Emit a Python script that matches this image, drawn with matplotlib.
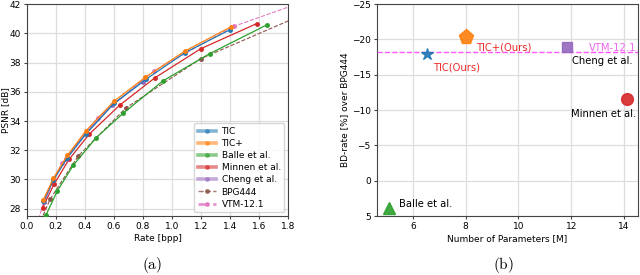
import matplotlib
matplotlib.use("Agg")
import matplotlib.pyplot as plt
from matplotlib.lines import Line2D

# ---- Data: rate-distortion (a) ----
tic_rate = [0.113, 0.182, 0.28, 0.406, 0.60, 0.82, 1.09, 1.40]
tic_psnr = [28.50, 29.95, 31.50, 33.10, 35.20, 36.85, 38.68, 40.25]
ticp_rate = [0.113, 0.182, 0.28, 0.406, 0.60, 0.817, 1.09, 1.404]
ticp_psnr = [28.59, 30.07, 31.66, 33.32, 35.35, 37.00, 38.79, 40.43]
balle_rate = [0.131, 0.209, 0.32, 0.479, 0.666, 0.937, 1.26, 1.656]
balle_psnr = [27.55, 29.20, 30.98, 32.87, 34.55, 36.74, 38.61, 40.59]
minnen_rate = [0.109, 0.188, 0.29, 0.43, 0.639, 0.884, 1.199, 1.583]
minnen_psnr = [28.08, 29.69, 31.37, 33.10, 35.08, 36.97, 38.95, 40.66]
cheng_rate = [0.12, 0.18, 0.27, 0.41, 0.59, 0.80]
cheng_psnr = [28.45, 29.95, 31.40, 33.20, 35.12, 36.70]
bpg_rate = [0.08, 0.16, 0.353, 0.683, 1.199, 2.0]
bpg_psnr = [26.8, 28.65, 31.60, 34.90, 38.27, 41.70]
vtm_rate = [0.07, 0.116, 0.243, 0.49, 0.874, 1.427, 2.2]
vtm_psnr = [26.9, 28.47, 31.16, 34.24, 37.42, 40.48, 43.20]

# ---- Data: BD-rate vs params (b) ----
methods = ["TIC(Ours)", "TIC+(Ours)", "Cheng et al.", "Minnen et al.", "Balle et al."]
params = [6.52, 8.0, 11.82, 14.1, 5.09]
bdrate = [-17.9, -20.4, -18.9, -11.6, 3.8]
vtm_bd = -18.17

plt.rcParams['mathtext.fontset'] = 'cm'

fig = plt.figure(figsize=(6.4, 2.75), dpi=100)
FS = 6.5
spine_c = "#444444"

# ---------- (a) ----------
ax1 = fig.add_axes([0.042, 0.2145, 0.408, 0.7705])
ms = 2.5
lw = 0.9
ax1.plot(tic_rate, tic_psnr, '-o', color='C0', ms=ms, lw=lw, label='TIC', zorder=5)
ax1.plot(ticp_rate, ticp_psnr, '-o', color='C1', ms=ms, lw=lw, label='TIC+', zorder=5)
ax1.plot(balle_rate, balle_psnr, '-o', color='C2', ms=ms, lw=lw, label='Balle et al.', zorder=4)
ax1.plot(minnen_rate, minnen_psnr, '-o', color='C3', ms=ms, lw=lw, label='Minnen et al.', zorder=4)
ax1.plot(cheng_rate, cheng_psnr, '-o', color='C4', ms=ms, lw=lw, label='Cheng et al.', zorder=4)
ax1.plot(bpg_rate, bpg_psnr, '--o', color='C5', ms=ms, lw=0.8, label='BPG444', zorder=3)
ax1.plot(vtm_rate, vtm_psnr, '--o', color='C6', ms=ms, lw=0.8, label='VTM-12.1', zorder=3)
ax1.set_xlim(0, 1.8)
ax1.set_ylim(27.5, 42)
ax1.set_xticks([0.0, 0.2, 0.4, 0.6, 0.8, 1.0, 1.2, 1.4, 1.6, 1.8])
ax1.set_yticks([28, 30, 32, 34, 36, 38, 40, 42])
ax1.grid(True, color='#dddddd', lw=0.9)
ax1.set_axisbelow(True)
ax1.set_xlabel('Rate [bpp]', fontsize=FS, labelpad=2)
ax1.set_ylabel('PSNR [dB]', fontsize=FS)
ax1.yaxis.set_label_coords(-0.066, 0.5)
ax1.tick_params(labelsize=FS, length=2.5, pad=2, color=spine_c)
for s in ax1.spines.values():
    s.set_color(spine_c)

handles = []
styles = [('C0', '-', 'TIC'), ('C1', '-', 'TIC+'), ('C2', '-', 'Balle et al.'),
          ('C3', '-', 'Minnen et al.'), ('C4', '-', 'Cheng et al.'),
          ('C5', '--', 'BPG444'), ('C6', '--', 'VTM-12.1')]
for c, lsty, lab in styles:
    if lsty == '-':
        handles.append(Line2D([], [], color=c, ls='-', lw=2.6, alpha=0.55,
                              marker='o', ms=2.5, markerfacecolor=c, markeredgecolor=c, label=lab))
    else:
        handles.append(Line2D([], [], color=c, ls='--', lw=1.0 if c == 'C5' else 2.0,
                              alpha=0.8, marker='o', ms=2.5, label=lab))
leg = ax1.legend(handles=handles, loc='lower right', fontsize=FS, frameon=True,
                 handlelength=2.0, handletextpad=0.6, borderpad=0.4, labelspacing=0.35,
                 borderaxespad=0.4)
leg.get_frame().set_edgecolor('#cccccc')

# ---------- (b) ----------
ax2 = fig.add_axes([0.589, 0.2145, 0.408, 0.7705])
markers = ['*', 'p', 's', 'o', '^']
colors = ['C0', 'C1', 'C4', 'C3', 'C2']
sizes = [9, 11, 7.5, 8.5, 8.5]
for m, c, s, x, y in zip(markers, colors, sizes, params, bdrate):
    ax2.plot([x], [y], marker=m, color=c, ms=s, ls='none', alpha=0.9, zorder=5)
ax2.axhline(vtm_bd, color='#ff55ff', ls='--', lw=1.0, zorder=3)
ax2.set_xlim(4.64, 14.53)
ax2.set_ylim(5, -25)
ax2.set_xticks([6, 8, 10, 12, 14])
ax2.set_yticks([-25, -20, -15, -10, -5, 0, 5])
ax2.set_yticklabels(['\u221225', '\u221220', '\u221215', '\u221210', '\u22125', '0', '5'])
ax2.grid(True, color='#dddddd', lw=0.9)
ax2.set_axisbelow(True)
ax2.set_xlabel('Number of Parameters [M]', fontsize=FS, labelpad=2)
ax2.set_ylabel('BD-rate [%] over BPG444', fontsize=FS, labelpad=2)
ax2.tick_params(labelsize=FS, length=2.5, pad=2, color=spine_c)
for s in ax2.spines.values():
    s.set_color(spine_c)

red = '#ee2a2a'
TFS = 7.2
ax2.text(params[0] + 0.26, bdrate[0] + 1.9, methods[0], color=red, fontsize=TFS, va='center', ha='left')
ax2.text(params[1] + 0.4, bdrate[1] + 1.5, methods[1], color=red, fontsize=TFS, va='center', ha='left')
ax2.text(params[2] + 0.2, bdrate[2] + 2.0, methods[2], color='black', fontsize=TFS, va='center', ha='left')
ax2.text(params[3] - 2.1, bdrate[3] + 2.1, methods[3], color='black', fontsize=TFS, va='center', ha='left')
ax2.text(params[4] + 0.4, bdrate[4] - 0.45, methods[4], color='black', fontsize=TFS, va='center', ha='left')
ax2.text(14.45, vtm_bd - 0.55, 'VTM-12.1', color='#ee66ee', fontsize=TFS, va='center', ha='right')

fig.text(152 / 640, 1 - 265 / 275, r'$\mathrm{(a)}$', fontsize=11, ha='center', va='center')
fig.text(503 / 640, 1 - 265 / 275, r'$\mathrm{(b)}$', fontsize=11, ha='center', va='center')

fig.savefig('out.png', dpi=100)
